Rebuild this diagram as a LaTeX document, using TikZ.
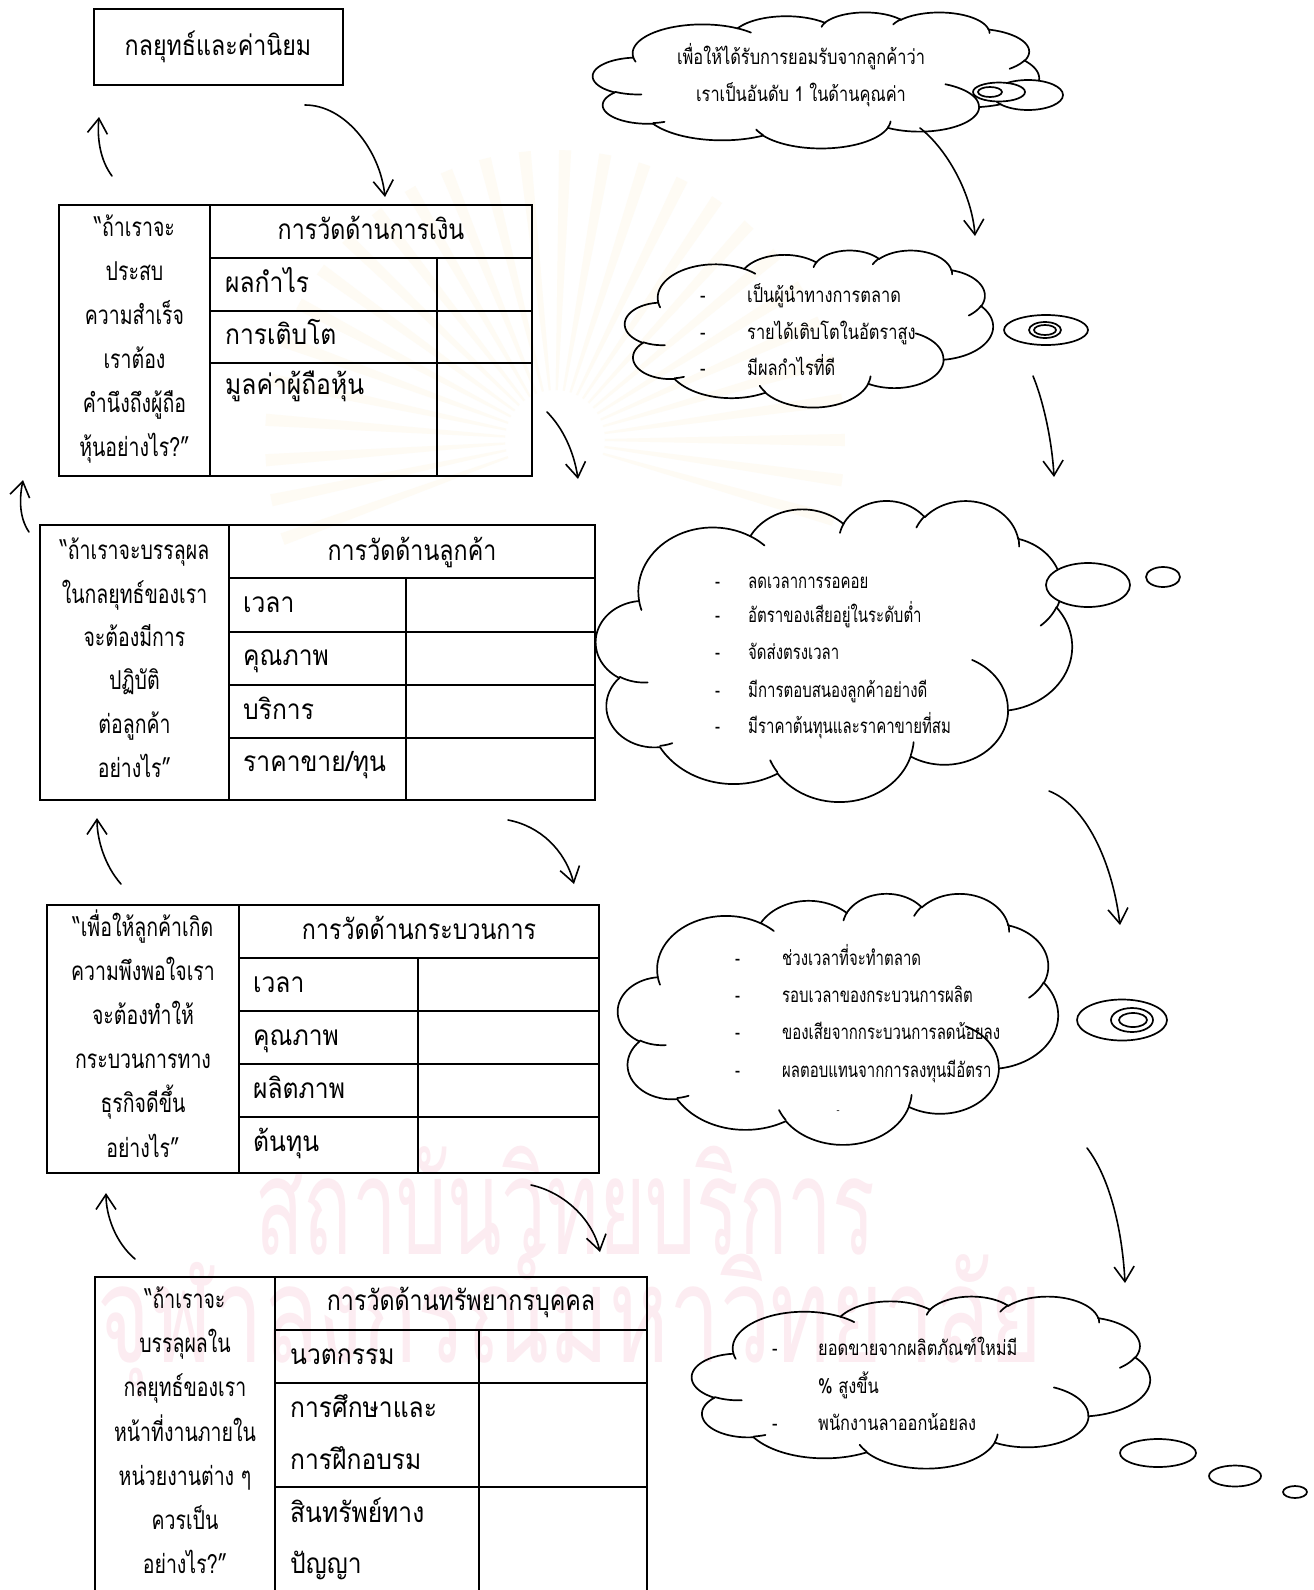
\documentclass[tikz,border=0pt]{standalone}
\usepackage{fontspec}
\usetikzlibrary{arrows.meta,calc}
\newfontfamily\thai[Script=Thai]{Loma}
\newfontfamily\thairow[Script=Thai,FakeStretch=0.88]{Loma}
\newfontfamily\thaihead[Script=Thai,FakeStretch=0.83]{Loma}
\newfontfamily\thaiq[Script=Thai,FakeStretch=0.75]{Loma}
\newfontfamily\thaicl[Script=Thai,FakeStretch=0.80]{Loma}
\newfontfamily\thaicln[Script=Thai,FakeStretch=0.73]{Loma}
\newfontfamily\thaiwma[Script=Thai,FakeStretch=0.59]{Loma}
\newfontfamily\thaiwmb[Script=Thai,FakeStretch=0.67]{Loma}
\newcommand\rfont{\thairow\fontsize{28}{32}\selectfont}
\newcommand\hfont{\thaihead\fontsize{28}{32}\selectfont}
\newcommand\qfont{\thaiq\fontsize{26}{30}\selectfont}
\newcommand\cfont{\thaicl\fontsize{20.5}{24}\selectfont}
\newcommand\cnfont{\thaicln\fontsize{20.5}{24}\selectfont}
\definecolor{wmpink}{RGB}{252,236,241}
\definecolor{wmgold}{RGB}{254,251,244}

% one elliptical arc of the cloud outline, continuing from (\cpx,\cpy);
% radii and angles follow the usual cloud preset (ray angles, y pointing down)
\newcommand\carc[4]{%
  \pgfmathsetmacro\cts{atan2((#1)*sin(#3),(#2)*cos(#3))}%
  \pgfmathsetmacro\cte{\cts+mod(atan2((#1)*sin((#3)+(#4)),(#2)*cos((#3)+(#4)))-\cts+720,360)}%
  \pgfmathsetmacro\ccx{\cpx-(#1)*cos(\cts)}%
  \pgfmathsetmacro\ccy{\cpy-(#2)*sin(\cts)}%
  \draw[cloudline] plot[domain=\cts:\cte,samples=32,variable=\q]
     ({\ccx+(#1)*cos(\q)},{\ccy+(#2)*sin(\q)});%
  \pgfmathsetmacro\cpx{\ccx+(#1)*cos(\cte)}%
  \pgfmathsetmacro\cpy{\ccy+(#2)*sin(\cte)}%
}
% cloud outline in a box: left, top, width, height
\newcommand\wcloud[4]{%
 \begin{scope}[shift={(#1,#2)},xscale=#3/432,yscale=#4/432]
  \def\cpx{39.00}\def\cpy{143.70}%
  \carc{67.53}{91.90}{-190.4875}{123.7805}%
  \carc{53.33}{72.67}{-144.1024}{89.9452}%
  \carc{43.65}{59.45}{-145.8079}{99.7230}%
  \carc{48.57}{65.95}{-130.9861}{117.2417}%
  \carc{53.33}{72.73}{-78.7089}{109.0269}%
  \carc{67.75}{92.20}{-46.2673}{130.2690}%
  \carc{57.85}{78.67}{0.6250}{114.0333}%
  \carc{67.52}{92.15}{22.4516}{115.1726}%
  \carc{77.20}{105.43}{66.2426}{75.7110}%
  \carc{43.60}{59.18}{-274.9421}{146.7356}%
  \carc{43.45}{59.45}{-246.8285}{152.5189}%
  \def\cpx{46.93}\def\cpy{261.77}\carc{43.45}{59.45}{86.7420}{26.4295}%
  \def\cpx{69.28}\def\cpy{348.99}\carc{43.60}{59.18}{73.6105}{11.4475}%
  \def\cpx{164.78}\def\cpy{390.90}\carc{67.52}{92.15}{137.6242}{14.0811}%
  \def\cpx{288.27}\def\cpy{347.51}\carc{67.52}{92.15}{6.4533}{15.9984}%
  \def\cpx{341.29}\def\cpy{229.54}\carc{57.85}{78.67}{-70.2924}{70.9174}%
  \def\cpx{417.98}\def\cpy{153.54}\carc{53.33}{72.73}{30.3180}{27.7515}%
  \def\cpx{383.24}\def\cpy{54.26}\carc{48.57}{65.95}{-13.7443}{14.8589}%
  \def\cpx{290.78}\def\cpy{39.52}\carc{48.57}{65.95}{-149.1815}{18.1954}%
  \def\cpx{221.41}\def\cpy{47.20}\carc{43.65}{59.45}{-163.4943}{17.6864}%
  \def\cpx{140.00}\def\cpy{51.92}\carc{67.53}{91.90}{-66.7070}{12.3194}%
  \def\cpx{41.27}\def\cpy{157.89}\carc{67.53}{91.90}{157.6544}{11.8582}%
 \end{scope}}

\tikzset{
  frame/.style={line width=2.1pt},
  cloudline/.style={line width=1.7pt,line cap=round,line join=round},
  bubble/.style={line width=1.7pt,fill=white},
  arr/.style={line width=1.6pt,line cap=round,-{Straight Barb[length=15pt,width=20pt,line width=1.6pt]}},
  headtext/.style={font=\hfont,inner sep=0pt,anchor=mid,yshift=-6pt},
  qtext/.style={font=\qfont,inner sep=0pt,anchor=mid,yshift=-6pt},
  ltext/.style={font=\rfont,inner sep=0pt,anchor=mid west,yshift=-6pt},
  cltext/.style={font=\cfont,inner sep=0pt,anchor=mid west},
  cntext/.style={font=\cnfont,inner sep=0pt,anchor=mid west},
  cctext/.style={font=\cfont,inner sep=0pt,anchor=mid},
  wmark/.style={text=wmpink,inner sep=0pt,anchor=mid},
}

\begin{document}
\begin{tikzpicture}[x=1pt,y=-1pt]
\useasboundingbox (0,0) rectangle (1314,1590);
\fill[white] (0,0) rectangle (1314,1590);
\clip (0,0) rectangle (1314,1590);

% faint emblem rays and institutional watermark
\coordinate (sun) at (555,440);
\foreach \a in {160,168,...,380}
  \fill[wmgold] ($(sun)+(\a-1.2:50)$) -- ($(sun)+(\a-1.2:290)$) -- ($(sun)+(\a+1.2:290)$) -- ($(sun)+(\a+1.2:50)$) -- cycle;
\node[wmark,font=\thaiwma\fontsize{135}{140}\selectfont] (wm1) at (565,1252) {สถาบันวิทยบริการ};
\node[wmark,font=\thaiwmb\fontsize{135}{140}\selectfont] (wm2) at (570,1360) {จุฬาลงกรณ์มหาวิทยาลัย};

% strategy box
\draw[frame] (94,9) rectangle (343,85);
\node[headtext] (strat) at (218,47) {กลยุทธ์และค่านิยม};

% ---- financial table
\draw[frame] (59,205) rectangle (532,476);
\draw[frame] (210,205) -- (210,476) (210,258) -- (532,258) (437,258) -- (437,476)
  (210,311) -- (532,311) (210,363) -- (532,363);
\foreach \yy/\tx [count=\i] in {228/“ถ้าเราจะ,272/ประสบ,316/ความสำเร็จ,360/เราต้อง,404/คำนึงถึงผู้ถือ,448/หุ้นอย่างไร?”}
  \node[qtext] (fq\i) at (134.5,\yy) {\tx};
\node[headtext] (fh) at (371,231) {การวัดด้านการเงิน};
\foreach \yy/\tx [count=\i] in {284/ผลกำไร,336/การเติบโต,386/มูลค่าผู้ถือหุ้น}
  \node[ltext] (fr\i) at (225,\yy) {\tx};

% ---- customer table
\draw[frame] (40,525) rectangle (595,800);
\draw[frame] (229,525) -- (229,800) (229,578) -- (595,578) (406,578) -- (406,800)
  (229,632) -- (595,632) (229,685) -- (595,685) (229,738) -- (595,738);
\foreach \yy/\tx [count=\i] in {551/“ถ้าเราจะบรรลุผล,595/ในกลยุทธ์ของเรา,638/จะต้องมีการ,681/ปฏิบัติ,725/ต่อลูกค้า,769/อย่างไร”}
  \node[qtext] (cq\i) at (134.5,\yy) {\tx};
\node[headtext] (ch) at (412,552) {การวัดด้านลูกค้า};
\foreach \yy/\tx [count=\i] in {604/เวลา,657/คุณภาพ,711/บริการ,763/{ราคาขาย/ทุน}}
  \node[ltext] (cr\i) at (243,\yy) {\tx};

% ---- process table
\draw[frame] (47,905) rectangle (599,1173);
\draw[frame] (239,905) -- (239,1173) (239,958) -- (599,958) (418,958) -- (418,1173)
  (239,1011) -- (599,1011) (239,1064) -- (599,1064) (239,1117) -- (599,1117);
\foreach \yy/\tx [count=\i] in {928/“เพื่อให้ลูกค้าเกิด,972/ความพึงพอใจเรา,1016/จะต้องทำให้,1060/กระบวนการทาง,1104/ธุรกิจดีขึ้น,1149/อย่างไร”}
  \node[qtext] (pq\i) at (143,\yy) {\tx};
\node[headtext] (ph) at (419,931) {การวัดด้านกระบวนการ};
\foreach \yy/\tx [count=\i] in {984/เวลา,1037/คุณภาพ,1090/ผลิตภาพ,1143/ต้นทุน}
  \node[ltext] (pr\i) at (253,\yy) {\tx};

% ---- human resources table
\draw[frame] (95,1277) rectangle (647,1620);
\draw[frame] (275,1277) -- (275,1620) (275,1330) -- (647,1330) (479,1330) -- (479,1620)
  (275,1383) -- (647,1383) (275,1487) -- (647,1487);
\foreach \yy/\tx [count=\i] in {1300/“ถ้าเราจะ,1344/บรรลุผลใน,1388/กลยุทธ์ของเรา,1433/หน้าที่งานภายใน,1477/หน่วยงานต่าง ๆ,1521/ควรเป็น,1565/อย่างไร?”}
  \node[qtext] (hq\i) at (185,\yy) {\tx};
\node[headtext] (hh) at (461,1302) {การวัดด้านทรัพยากรบุคคล};
\foreach \yy/\tx [count=\i] in {1356/นวตกรรม,1409/การศึกษาและ,1461/การฝึกอบรม,1514/สินทรัพย์ทาง,1565/ปัญญา}
  \node[ltext] (hr\i) at (290,\yy) {\tx};

% ---- clouds
\wcloud{593}{12}{446}{136}
\draw[bubble] (1028,95) ellipse[x radius=35,y radius=15];
\draw[bubble] (999,92) ellipse[x radius=26,y radius=9.5];
\draw[bubble] (990,92) ellipse[x radius=12,y radius=5];
\node[cctext] (g1) at (801,62) {เพื่อให้ได้รับการยอมรับจากลูกค้าว่า};
\node[cctext] (g2) at (801,99) {เราเป็นอันดับ 1 ในด้านคุณค่า};

\wcloud{625}{250}{368}{157}
\draw[bubble] (1046,330) ellipse[x radius=42,y radius=15];
\draw[bubble] (1045,330) ellipse[x radius=16,y radius=8];
\draw[bubble] (1045,330) ellipse[x radius=11,y radius=5];
\foreach \yy/\tx [count=\i] in {300/เป็นผู้นำทางการตลาด,337/รายได้เติบโตในอัตราสูง,373/มีผลกำไรที่ดี}{
  \node[cltext] (md\i) at (700,\yy) {-};
  \node[cltext] (m\i) at (747,\yy) {\tx};}

\wcloud{596}{500}{476}{301}
\draw[bubble] (1088,585) ellipse[x radius=42,y radius=22];
\draw[bubble] (1163,577) ellipse[x radius=17,y radius=10];
\foreach \yy/\tx [count=\i] in {586/ลดเวลาการรอคอย,620/อัตราของเสียอยู่ในระดับต่ำ,657/จัดส่งตรงเวลา,695/มีการตอบสนองลูกค้าอย่างดี,731/มีราคาต้นทุนและราคาขายที่สม}{
  \node[cntext] (kd\i) at (715,\yy) {-};
  \node[cntext] (k\i) at (748,\yy) {\tx};}

\wcloud{618}{893}{440}{251}
\draw[bubble] (1122,1020) ellipse[x radius=45,y radius=20.5];
\draw[bubble] (1132,1020) ellipse[x radius=21,y radius=12];
\draw[bubble] (1133,1020) ellipse[x radius=14,y radius=7];
\foreach \yy/\tx [count=\i] in {963/ช่วงเวลาที่จะทำตลาด,1000/รอบเวลาของกระบวนการผลิต,1037/ของเสียจากกระบวนการลดน้อยลง,1075/ผลตอบแทนจากการลงทุนมีอัตรา}{
  \node[cntext] (pd\i) at (735,\yy) {-};
  \node[cntext] (p\i) at (782,\yy) {\tx};}
\node[font=\thai\fontsize{9}{10}\selectfont,inner sep=0pt] (pd5) at (838,1112) {-};

\wcloud{692}{1296}{458}{172}
\draw[bubble] (1158,1453) ellipse[x radius=38,y radius=14];
\draw[bubble] (1235,1476) ellipse[x radius=26,y radius=10.5];
\draw[bubble] (1295,1492) ellipse[x radius=12,y radius=6];
\node[cltext] (ld1) at (772,1353) {-};
\node[cltext] (l1) at (818,1353) {ยอดขายจากผลิตภัณฑ์ใหม่มี};
\node[cltext] (l2) at (818,1391) {\% สูงขึ้น};
\node[cltext] (ld3) at (772,1428) {-};
\node[cltext] (l3) at (818,1428) {พนักงานลาออกน้อยลง};

% ---- connectors
\coordinate (aA) at (112,176);   \coordinate (bA) at (99,117);
\coordinate (aB) at (305,105);   \coordinate (bB) at (385,197);
\coordinate (aC) at (547,412);   \coordinate (bC) at (578,479);
\coordinate (aD) at (29,532);    \coordinate (bD) at (23,480);
\coordinate (aE) at (121,884);   \coordinate (bE) at (97,818);
\coordinate (aF) at (508,820);   \coordinate (bF) at (574,884);
\coordinate (aG) at (135,1259);  \coordinate (bG) at (106,1193);
\coordinate (aH) at (531,1185);  \coordinate (bH) at (600,1252);
\coordinate (aI) at (920,128);   \coordinate (bI) at (975,236);
\coordinate (aJ) at (1033,376);  \coordinate (bJ) at (1054,477);
\coordinate (aK) at (1049,791);  \coordinate (bK) at (1120,925);
\coordinate (aL) at (1087,1148); \coordinate (bL) at (1125,1283);

\draw[arr] (aA) .. controls (100,160) and (97,138) .. (bA);
\draw[arr] (aB) .. controls (345,105) and (380,150) .. (bB);
\draw[arr] (aC) .. controls (563,428) and (574,452) .. (bC);
\draw[arr] (aD) .. controls (18,516) and (20,495) .. (bD);
\draw[arr] (aE) .. controls (105,866) and (97,840) .. (bE);
\draw[arr] (aF) .. controls (540,826) and (565,850) .. (bF);
\draw[arr] (aG) .. controls (115,1242) and (106,1215) .. (bG);
\draw[arr] (aH) .. controls (563,1192) and (592,1218) .. (bH);
\draw[arr] (aI) .. controls (948,150) and (972,195) .. (bI);
\draw[arr] (aJ) .. controls (1043,400) and (1052,440) .. (bJ);
\draw[arr] (aK) .. controls (1085,805) and (1112,860) .. (bK);
\draw[arr] (aL) .. controls (1108,1175) and (1122,1225) .. (bL);
\end{tikzpicture}
\end{document}
